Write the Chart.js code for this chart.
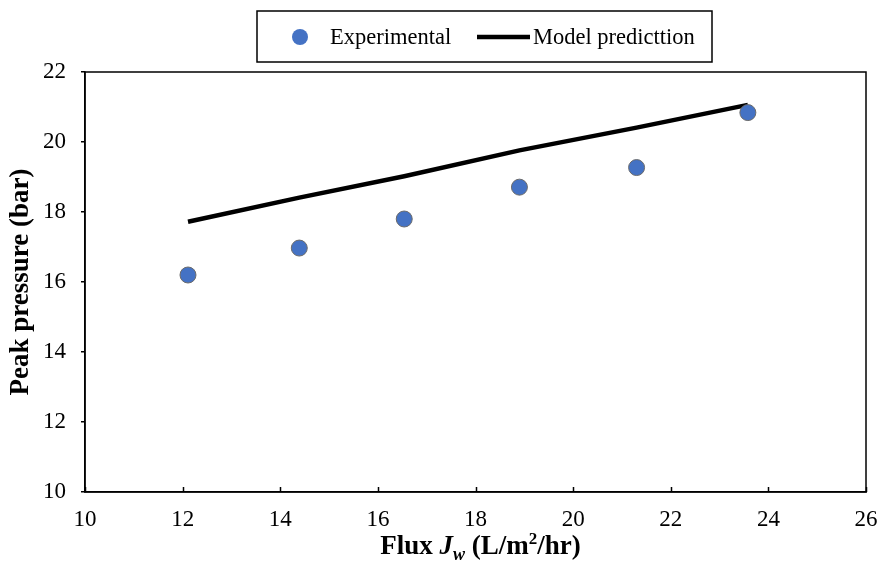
<!DOCTYPE html>
<html>
<head>
<meta charset="utf-8">
<script src="https://cdn.jsdelivr.net/npm/chart.js@4.4.1/dist/chart.umd.min.js"></script>
<style>
  body { margin: 0; background: #fff; }
  #wrap { width: 877px; height: 572px; }
</style>
</head>
<body>
<div id="wrap"><canvas id="chart"></canvas></div>
<script>
// values
const fluxExp = [12.11, 14.39, 16.54, 18.9, 21.3, 23.58]
const pressureExp = [16.2, 16.97, 17.8, 18.71, 19.27, 20.84]
const fluxModel = [12.11, 14.39, 16.54, 18.9, 21.3, 23.58]
const pressureModel = [17.72, 18.41, 19.02, 19.76, 20.41, 21.06]
const xTicks = [10, 12, 14, 16, 18, 20, 22, 24, 26]
const yTicks = [10, 12, 14, 16, 18, 20, 22]

const serif = 'Liberation Serif'
const blue = '#4472C4'

// frame round the plot, inward x ticks, x title with sub/superscript, boxed legend
const extras = {
  id: 'extras',
  afterDraw (chart) {
    const ctx = chart.ctx
    const a = chart.chartArea
    ctx.save()
    ctx.strokeStyle = '#000'
    ctx.lineWidth = 1.5
    ctx.strokeRect(a.left, a.top, a.right - a.left, a.bottom - a.top)

    const xs = chart.scales.x
    ctx.beginPath()
    xTicks.forEach(v => {
      const px = Math.round(xs.getPixelForValue(v)) + 0.5
      ctx.moveTo(px, a.bottom)
      ctx.lineTo(px, a.bottom - 5)
    })
    ctx.stroke()

    // x axis title: Flux J_w (L/m²/hr)
    const parts = [
      { t: 'Flux ', f: 'bold 27px ' + serif, dy: 0 },
      { t: 'J', f: 'italic bold 27px ' + serif, dy: 0 },
      { t: 'w', f: 'italic bold 18px ' + serif, dy: 6 },
      { t: ' (L/m', f: 'bold 27px ' + serif, dy: 0 },
      { t: '2', f: 'bold 17px ' + serif, dy: -10 },
      { t: '/hr)', f: 'bold 27px ' + serif, dy: 0 }
    ]
    let total = 0
    parts.forEach(p => { ctx.font = p.f; p.w = ctx.measureText(p.t).width; total += p.w })
    let x = (a.left + a.right) / 2 - total / 2 + 5
    ctx.fillStyle = '#000'
    ctx.textBaseline = 'alphabetic'
    ctx.textAlign = 'left'
    parts.forEach(p => { ctx.font = p.f; ctx.fillText(p.t, x, 554 + p.dy); x += p.w })

    // legend
    const ds = chart.data.datasets
    ctx.strokeRect(257, 11, 455, 51)
    ctx.font = '22.5px ' + serif
    ctx.textBaseline = 'middle'
    ctx.fillStyle = ds[0].backgroundColor
    ctx.beginPath()
    ctx.arc(300, 37, 8, 0, Math.PI * 2)
    ctx.fill()
    ctx.fillStyle = '#000'
    ctx.fillText(ds[0].label, 330, 38)
    ctx.strokeStyle = ds[1].borderColor
    ctx.lineWidth = ds[1].borderWidth
    ctx.beginPath()
    ctx.moveTo(477, 37)
    ctx.lineTo(530, 37)
    ctx.stroke()
    ctx.fillText(ds[1].label, 533, 38)
    ctx.restore()
  }
}

Chart.defaults.font.family = serif
Chart.defaults.color = '#000'

new Chart(document.getElementById('chart'), {
  type: 'scatter',
  data: {
    datasets: [{
      label: 'Experimental',
      data: fluxExp.map((x, i) => ({ x, y: pressureExp[i] })),
      backgroundColor: blue,
      borderColor: '#6b6b6b',
      borderWidth: 1,
      pointRadius: 8
    }, {
      label: 'Model predicttion',
      type: 'line',
      data: fluxModel.map((x, i) => ({ x, y: pressureModel[i] })),
      borderColor: '#000',
      borderWidth: 4.5,
      pointRadius: 0,
      fill: false,
      tension: 0
    }]
  },
  options: {
    responsive: true,
    maintainAspectRatio: false,
    devicePixelRatio: 1,
    animation: false,
    layout: { padding: { top: 72, right: 11, left: 0, bottom: 0 } },
    plugins: { legend: { display: false }, tooltip: { enabled: false } },
    scales: {
      x: {
        type: 'linear',
        min: 10,
        max: 26,
        afterBuildTicks: s => { s.ticks = xTicks.map(v => ({ value: v })) },
        afterFit: s => { s.height = 80; s.paddingRight = 0; s.paddingLeft = 0 },
        ticks: { font: { size: 23 }, padding: 14, maxRotation: 0 },
        grid: { drawOnChartArea: false, drawTicks: false },
        border: { color: '#000', width: 1.5 }
      },
      y: {
        min: 10,
        max: 22,
        afterBuildTicks: s => { s.ticks = yTicks.map(v => ({ value: v })) },
        afterFit: s => { s.width = 85; s.paddingTop = 0; s.paddingBottom = 0 },
        ticks: { font: { size: 23 }, padding: 15 },
        grid: { drawOnChartArea: false, drawTicks: true, tickLength: 4, color: '#000', lineWidth: 1.5 },
        border: { color: '#000', width: 1.5 },
        title: { display: true, text: 'Peak pressure (bar)', font: { size: 27, weight: 'bold' }, padding: { top: 5 } }
      }
    }
  },
  plugins: [extras]
})
</script>
</body>
</html>
